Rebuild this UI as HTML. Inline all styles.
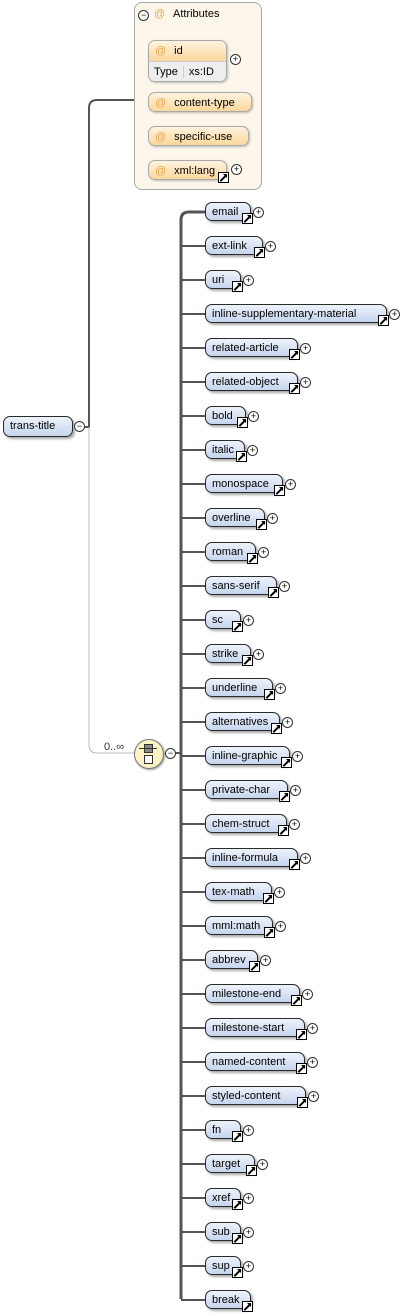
<!DOCTYPE html>
<html><head><style>
body{margin:0;width:418px;height:1315px;background:#fff;position:relative;font-family:"Liberation Sans",sans-serif;font-size:11px;color:#000;overflow:hidden}
.abs{position:absolute}
.el{position:absolute;left:205px;height:19px;border:1px solid #2a2a2a;border-radius:7px;background:linear-gradient(#eef3fb,#c5d5ee);box-shadow:2px 2px 2px #aaa;line-height:19px;padding-left:6px;box-sizing:border-box}
.ar{position:absolute;right:-3px;bottom:-4px;width:9px;height:9px;background:#fff;border:1px solid #000;overflow:hidden}
.ar:before{content:"";position:absolute;left:0;top:4px;width:9px;height:2px;background:#000;transform:rotate(-45deg)}
.ar:after{content:"";position:absolute;right:1px;top:1px;width:0;height:0;border-top:4px solid #000;border-left:4px solid transparent}
.pl{position:absolute;width:9px;height:9px;border:1px solid #333;border-radius:50%;background:#fff;font-size:9px;line-height:9px;text-align:center}
.at{position:absolute;left:148px;height:20px;border:1px solid #aaa;border-radius:7px;background:linear-gradient(#fff3df,#fbd89c);line-height:20px;padding-left:6px;box-sizing:border-box;box-shadow:1px 1px 2px #bbb}
.at b{font-weight:normal;color:#e9a84a;margin-right:8px}
</style></head><body>
<svg class="abs" style="left:0;top:0" width="418" height="1315">
<path d="M84 427 H89 V108 Q89 100 97 100 H134" fill="none" stroke="#555" stroke-width="2"/>
<path d="M89 427 V745 Q89 753 97 753 H134" fill="none" stroke="#bbb" stroke-width="1"/>
<line x1="175" y1="753" x2="181" y2="753" stroke="#555" stroke-width="2"/>
<path d="M181 1299 V220 Q181 212 189 212 H205" fill="none" stroke="#555" stroke-width="3"/>
<g id="h" stroke="#555" stroke-width="2"></g>
</svg>
<div class="abs" style="left:134px;top:2px;width:128px;height:188px;border:1px solid #aaa;border-radius:8px;background:#fdf6ea;box-sizing:border-box"></div>
<div class="pl" style="left:138px;top:10px">−</div>
<div class="abs" style="left:154px;top:8px;color:#e9a84a">@</div>
<div class="abs" style="left:173px;top:8px">Attributes</div>
<div class="abs" style="left:148px;top:40px;width:77px;height:40px;border:1px solid #aaa;border-radius:7px;overflow:hidden;box-shadow:1px 1px 2px #bbb">
<div style="height:20px;background:linear-gradient(#fff3df,#fbd89c);line-height:20px;padding-left:6px"><span style="color:#e9a84a;margin-right:8px">@</span>id</div>
<div style="height:20px;background:#eee;line-height:20px;border-top:1px solid #ccc"><span style="padding:0 5px">Type</span><span style="border-left:1px solid #ccc;padding:0 5px">xs:ID</span></div></div>
<div class="pl" style="left:230px;top:54px">+</div>
<div class="at" style="top:92px;width:104px"><b>@</b>content-type</div>
<div class="at" style="top:126px;width:101px"><b>@</b>specific-use</div>
<div class="at" style="top:160px;width:79px"><b>@</b>xml:lang<span class="ar"></span></div>
<div class="pl" style="left:231px;top:164px">+</div>
<div class="el" style="left:3px;top:416px;width:70px;height:21px">trans-title</div>
<div class="pl" style="left:74px;top:421px">−</div>
<div class="abs" style="left:104px;top:741px;color:#333">0..∞</div>
<div class="abs" style="left:134px;top:739px;width:28px;height:28px;border:1px solid #777;border-radius:50%;background:#fbf3c4;box-shadow:1px 1px 2px #999"></div>
<div class="abs" style="left:144px;top:744px;width:7px;height:7px;background:#888;border:1px solid #333"></div>
<div class="abs" style="left:144px;top:755px;width:7px;height:7px;background:#fff;border:1px solid #333"></div>
<div class="abs" style="left:139px;top:748px;width:18px;height:1px;background:#333"></div>
<div class="pl" style="left:165px;top:748px">−</div>
<div id="els"></div>
<script>
var d=[["email",251],["ext-link",263],["uri",241],["inline-supplementary-material",387],["related-article",298],["related-object",298],["bold",246],["italic",245],["monospace",283],["overline",265],["roman",256],["sans-serif",277],["sc",241],["strike",251],["underline",273],["alternatives",280],["inline-graphic",290],["private-char",288],["chem-struct",287],["inline-formula",298],["tex-math",272],["mml:math",273],["abbrev",258],["milestone-end",300],["milestone-start",305],["named-content",305],["styled-content",306],["fn",241],["target",255],["xref",241],["sub",241],["sup",241],["break",251]];
var h="",g="";
d.forEach(function(e,i){var c=212+i*34;
h+='<div class="el" style="top:'+(c-10)+'px;width:'+(e[1]-205)+'px">'+e[0]+'<span class="ar"></span></div>';
if(i<32)h+='<div class="pl" style="left:'+(e[1]+2)+'px;top:'+(c-5)+'px">+</div>';
if(i>0)g+='<line x1="181" y1="'+c+'" x2="205" y2="'+c+'"/>';});
document.getElementById("els").innerHTML=h;
document.getElementById("h").innerHTML=g;
</script>
</body></html>
